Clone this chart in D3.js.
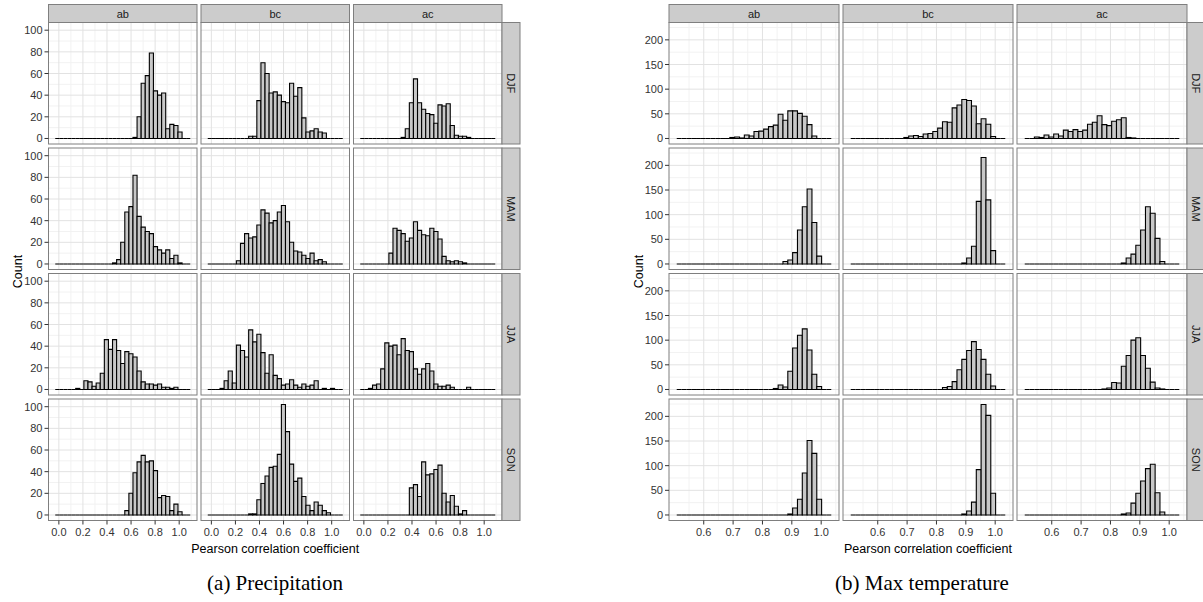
<!DOCTYPE html>
<html><head><meta charset="utf-8">
<script src="https://cdn.jsdelivr.net/npm/d3@7"></script>
<style>body{margin:0;background:#fff;overflow:hidden} svg{display:block}</style>
</head><body><svg id="c" width="1203" height="602"></svg>
<script>
const facetCols = ["ab","bc","ac"];
const facetRows = ["DJF","MAM","JJA","SON"];

// ---- (a) Precipitation: 33 bins ----
const precipBinStart = -0.03, precipBinWidth = 0.034;
const precipXTicks = [0,0.2,0.4,0.6,0.8,1.0];
const precipYTicks = [0,20,40,60,80,100];
const pr_ab_DJF = [0,0,0,0,0,0,0,0,0,0, 0,0,0,0,0,0,0,0,0,1, 20,51,58,79,44,40,42,9,13,12, 6,0,0];
const pr_bc_DJF = [0,0,0,0,0,0,0,0,0,0, 2,2,35,70,60,42,43,40,34,33, 51,39,47,19,6,7,9,6,5,0, 0,0,0];
const pr_ac_DJF = [0,0,0,0,0,0,0,0,0,0, 1,9,33,55,33,27,23,22,14,31, 30,32,12,3,2,2,1,0,0,0, 0,0,0];
const pr_ab_MAM = [0,0,0,0,0,0,0,0,0,0, 0,0,0,0,1,4,20,48,53,82, 44,34,30,28,16,13,10,13,5,8, 1,0,0];
const pr_bc_MAM = [0,0,0,0,0,0,0,3,19,28, 24,25,36,50,47,38,40,48,54,39, 20,12,11,8,5,10,3,4,2,0, 0,0,0];
const pr_ac_MAM = [0,0,0,0,0,0,0,10,33,31, 28,21,24,39,31,27,26,33,30,23, 7,3,2,3,2,1,0,0,0,0, 0,0,0];
const pr_ab_JJA = [0,0,0,0,0,1,0,8,7,3, 6,15,46,37,46,36,24,35,33,30, 17,7,5,5,4,5,2,2,1,2, 0,0,0];
const pr_bc_JJA = [0,0,0,1,8,17,6,41,36,30, 55,44,51,34,15,32,13,10,4,5, 9,4,2,5,3,4,8,0,1,0, 1,0,0];
const pr_ac_JJA = [0,0,1,4,5,19,43,40,41,32, 47,36,35,19,14,19,24,17,5,3, 3,4,2,0,0,0,2,0,0,0, 0,0,0];
const pr_ab_SON = [0,0,0,0,0,0,0,0,0,0, 0,0,0,0,0,0,0,4,20,39, 49,55,49,50,41,16,18,17,4,10, 3,0,0];
const pr_bc_SON = [0,0,0,0,0,0,0,0,0,0, 1,1,14,29,36,44,45,56,102,77, 47,31,34,17,9,4,12,9,4,2, 0,0,0];
const pr_ac_SON = [0,0,0,0,0,0,0,0,0,0, 0,0,25,28,17,49,37,38,42,46, 20,12,18,8,1,4,0,0,0,0, 0,0,0];

// ---- (b) Max temperature: 32 bins ----
const tmBinStart = 0.508, tmBinWidth = 0.01645;
const tmXTicks = [0.6,0.7,0.8,0.9,1.0];
const tmYTicks = [0,50,100,150,200];
const tm_ab_DJF = [0,0,0,0,0,0,0,0,0,0, 0,2,3,1,7,5,14,15,19,24, 27,49,37,56,56,51,45,28,5,0, 0,0];
const tm_bc_DJF = [0,0,0,0,0,0,0,0,0,0, 0,2,5,6,4,9,10,14,21,34, 33,62,68,79,77,66,30,40,29,4, 0,0];
const tm_ac_DJF = [0,0,3,2,7,3,9,5,17,14, 18,14,17,29,33,46,28,26,35,38, 42,2,1,0,0,0,0,0,0,0, 0,0];
const tm_ab_MAM = [0,0,0,0,0,0,0,0,0,0, 0,0,0,0,0,0,0,0,0,0, 0,0,5,8,23,69,116,152,84,16, 0,0];
const tm_bc_MAM = [0,0,0,0,0,0,0,0,0,0, 0,0,0,0,0,0,0,0,0,0, 0,0,0,2,12,36,127,216,130,27, 0,0];
const tm_ac_MAM = [0,0,0,0,0,0,0,0,0,0, 0,0,0,0,0,0,0,0,0,0, 2,12,20,38,69,116,103,52,5,0, 0,0];
const tm_ab_JJA = [0,0,0,0,0,0,0,0,0,0, 0,0,0,0,0,0,0,0,0,0, 2,9,5,37,84,110,123,80,31,6, 0,0];
const tm_bc_JJA = [0,0,0,0,0,0,0,0,0,0, 0,0,0,0,0,0,0,0,0,4, 6,16,40,61,79,97,81,61,31,7, 0,0];
const tm_ac_JJA = [0,0,0,0,0,0,0,0,0,0, 0,0,0,0,0,0,1,3,14,13, 47,69,100,105,69,43,15,3,1,0, 0,0];
const tm_ab_SON = [0,0,0,0,0,0,0,0,0,0, 0,0,0,0,0,0,0,0,0,0, 0,0,0,2,14,32,85,151,125,32, 0,0];
const tm_bc_SON = [0,0,0,0,0,0,0,0,0,0, 0,0,0,0,0,0,0,0,0,0, 0,0,0,2,8,26,92,224,202,44, 0,0];
const tm_ac_SON = [0,0,0,0,0,0,0,0,0,0, 0,0,0,0,0,0,0,0,0,0, 2,4,24,44,69,94,103,45,6,0, 0,0];

const precipData = {
  DJF:{ab:pr_ab_DJF, bc:pr_bc_DJF, ac:pr_ac_DJF},
  MAM:{ab:pr_ab_MAM, bc:pr_bc_MAM, ac:pr_ac_MAM},
  JJA:{ab:pr_ab_JJA, bc:pr_bc_JJA, ac:pr_ac_JJA},
  SON:{ab:pr_ab_SON, bc:pr_bc_SON, ac:pr_ac_SON}};
const tmData = {
  DJF:{ab:tm_ab_DJF, bc:tm_bc_DJF, ac:tm_ac_DJF},
  MAM:{ab:tm_ab_MAM, bc:tm_bc_MAM, ac:tm_ac_MAM},
  JJA:{ab:tm_ab_JJA, bc:tm_bc_JJA, ac:tm_ac_JJA},
  SON:{ab:tm_ab_SON, bc:tm_bc_SON, ac:tm_ac_SON}};

const svg = d3.select("#c");
const SANS = "'Liberation Sans', Arial, Helvetica, sans-serif";
const SERIF = "'Liberation Serif', 'DejaVu Serif', serif";

function drawChart(o){
  const g = svg.append("g");
  const nb = o.data.DJF.ab.length;
  const lo = o.binStart, hi = o.binStart + nb*o.binWidth;
  const pad = (hi-lo)*0.05;
  let maxC = 0;
  facetRows.forEach(r=>facetCols.forEach(c=>{maxC = Math.max(maxC, d3.max(o.data[r][c]));}));
  const ypad = maxC*0.05;
  const x = d3.scaleLinear().domain([lo-pad, hi+pad]).range([0, o.panelW]);
  const y = d3.scaleLinear().domain([-ypad, maxC+ypad]).range([o.panelH, 0]);
  const step = o.xTicks[1]-o.xTicks[0];
  const minorX = [o.xTicks[0]-step/2];
  o.xTicks.forEach(t=>minorX.push(t+step/2));
  const ystep = o.yTicks[1]-o.yTicks[0];
  const minorY = o.yTicks.map(t=>t+ystep/2);
  const xd = x.domain(), yd = y.domain();

  facetRows.forEach((r,ri)=>{
    const py = o.top + o.stripH + ri*(o.panelH+o.gap);
    facetCols.forEach((c,ci)=>{
      const px = o.left + ci*(o.panelW+o.gap);
      const p = g.append("g").attr("transform",`translate(${px},${py})`);
      p.append("rect").attr("width",o.panelW).attr("height",o.panelH).attr("fill","#fff");
      p.selectAll(".mnx").data(minorX.filter(v=>v>xd[0]&&v<xd[1])).join("line")
        .attr("x1",d=>x(d)).attr("x2",d=>x(d)).attr("y1",0).attr("y2",o.panelH)
        .attr("stroke","#f2f2f2").attr("stroke-width",1);
      p.selectAll(".mny").data(minorY.filter(v=>v<yd[1])).join("line")
        .attr("y1",d=>y(d)).attr("y2",d=>y(d)).attr("x1",0).attr("x2",o.panelW)
        .attr("stroke","#f2f2f2").attr("stroke-width",1);
      p.selectAll(".mjx").data(o.xTicks).join("line")
        .attr("x1",d=>x(d)).attr("x2",d=>x(d)).attr("y1",0).attr("y2",o.panelH)
        .attr("stroke","#e2e2e2").attr("stroke-width",1);
      p.selectAll(".mjy").data(o.yTicks).join("line")
        .attr("y1",d=>y(d)).attr("y2",d=>y(d)).attr("x1",0).attr("x2",o.panelW)
        .attr("stroke","#e2e2e2").attr("stroke-width",1);
      const counts = o.data[r][c];
      const bw = x(o.binStart+o.binWidth)-x(o.binStart);
      p.selectAll(".bar").data(counts).join("path")
        .attr("d",(d,i)=>{
          const x0 = x(o.binStart+i*o.binWidth), y0 = y(0), y1 = y(d);
          return `M${x0},${y0}V${y1}H${x0+bw}V${y0}Z`;
        })
        .attr("fill","#c8c8c8").attr("stroke","#000").attr("stroke-width",1.1);
      p.append("rect").attr("width",o.panelW).attr("height",o.panelH)
        .attr("fill","none").attr("stroke","#7f7f7f").attr("stroke-width",1);
      if(ri===0){
        const s = g.append("g").attr("transform",`translate(${px},${o.top})`);
        s.append("rect").attr("width",o.panelW).attr("height",o.stripH)
          .attr("fill","#cccccc").attr("stroke","#7f7f7f").attr("stroke-width",1);
        s.append("text").attr("x",o.panelW/2).attr("y",o.stripH/2+4)
          .attr("text-anchor","middle").attr("font-family",SANS).attr("font-size",11)
          .attr("fill","#1a1a1a").text(c);
      }
      if(ci===0){
        const ay = p.append("g");
        ay.selectAll("line").data(o.yTicks).join("line")
          .attr("x1",-4).attr("x2",0).attr("y1",d=>y(d)).attr("y2",d=>y(d))
          .attr("stroke","#333").attr("stroke-width",1);
        ay.selectAll("text").data(o.yTicks).join("text")
          .attr("x",-6).attr("y",d=>y(d)+4).attr("text-anchor","end")
          .attr("font-family",SANS).attr("font-size",11).attr("fill","#333").text(d=>d);
      }
      if(ri===facetRows.length-1){
        const ax = p.append("g");
        ax.selectAll("line").data(o.xTicks).join("line")
          .attr("x1",d=>x(d)).attr("x2",d=>x(d)).attr("y1",o.panelH).attr("y2",o.panelH+4)
          .attr("stroke","#333").attr("stroke-width",1);
        ax.selectAll("text").data(o.xTicks).join("text")
          .attr("x",d=>x(d)).attr("y",o.panelH+15).attr("text-anchor","middle")
          .attr("font-family",SANS).attr("font-size",11).attr("fill","#333").text(d=>d.toFixed(1));
      }
    });
    const sx = o.left + 3*o.panelW + 2*o.gap;
    const s = g.append("g").attr("transform",`translate(${sx},${py})`);
    s.append("rect").attr("width",o.stripH).attr("height",o.panelH)
      .attr("fill","#cccccc").attr("stroke","#7f7f7f").attr("stroke-width",1);
    s.append("text").attr("transform",`translate(${o.stripH/2-4},${o.panelH/2}) rotate(90)`)
      .attr("text-anchor","middle").attr("font-family",SANS).attr("font-size",11)
      .attr("fill","#1a1a1a").text(r);
  });
  const areaW = 3*o.panelW + 2*o.gap;
  const bottom = o.top + o.stripH + 4*o.panelH + 3*o.gap;
  g.append("text").attr("x",o.left+areaW/2).attr("y",bottom+32)
    .attr("text-anchor","middle").attr("font-family",SANS).attr("font-size",12.5)
    .attr("fill","#000").text("Pearson correlation coefficient");
  const midY = o.top + o.stripH + (4*o.panelH+3*o.gap)/2;
  g.append("text").attr("transform",`translate(${o.countX},${midY}) rotate(-90)`)
    .attr("text-anchor","middle").attr("font-family",SANS).attr("font-size",12.5)
    .attr("fill","#000").text("Count");
  g.append("text").attr("x",o.captionX).attr("y",590)
    .attr("text-anchor","middle").attr("font-family",SERIF).attr("font-size",21)
    .attr("fill","#000").text(o.caption);
}

drawChart({data:precipData, binStart:precipBinStart, binWidth:precipBinWidth,
  xTicks:precipXTicks, yTicks:precipYTicks,
  left:48.5, top:4.5, stripH:18, panelW:148.5, panelH:121.5, gap:4,
  countX:22, captionX:275, caption:"(a) Precipitation"});
drawChart({data:tmData, binStart:tmBinStart, binWidth:tmBinWidth,
  xTicks:tmXTicks, yTicks:tmYTicks,
  left:669, top:4.5, stripH:18, panelW:170, panelH:121.5, gap:4,
  countX:643, captionX:922, caption:"(b) Max temperature"});
</script></body></html>
